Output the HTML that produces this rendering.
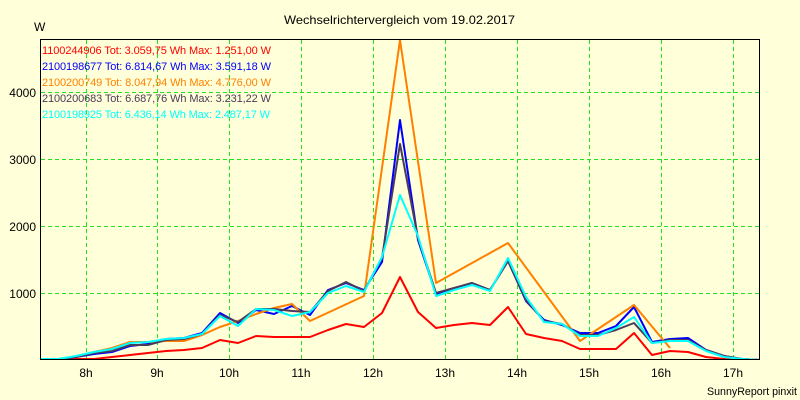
<!DOCTYPE html>
<html><head><meta charset="utf-8"><style>
html,body{margin:0;padding:0;background:#ffffd9;}
svg{display:block;}
text{font-family:"Liberation Sans",Arial,sans-serif;}
</style></head><body>
<svg width="800" height="400" viewBox="0 0 800 400" xmlns="http://www.w3.org/2000/svg">
<rect x="0" y="0" width="800" height="400" fill="#ffffd9"/>
<defs><clipPath id="pc"><rect x="40" y="39" width="720" height="321"/></clipPath></defs>
<text x="284" y="24" font-size="12" textLength="231" lengthAdjust="spacingAndGlyphs" fill="#000">Wechselrichtervergleich vom 19.02.2017</text>
<text x="34" y="31" font-size="12" fill="#000">W</text>
<g stroke="#22e022" stroke-width="1" stroke-dasharray="4,3" fill="none" shape-rendering="crispEdges">
<line x1="41" y1="92.5" x2="759" y2="92.5"/>
<line x1="41" y1="159.5" x2="759" y2="159.5"/>
<line x1="41" y1="226.5" x2="759" y2="226.5"/>
<line x1="41" y1="293.5" x2="759" y2="293.5"/>
<line x1="86.5" y1="40" x2="86.5" y2="359"/>
<line x1="157.5" y1="40" x2="157.5" y2="359"/>
<line x1="229.5" y1="40" x2="229.5" y2="359"/>
<line x1="301.5" y1="40" x2="301.5" y2="359"/>
<line x1="373.5" y1="40" x2="373.5" y2="359"/>
<line x1="445.5" y1="40" x2="445.5" y2="359"/>
<line x1="517.5" y1="40" x2="517.5" y2="359"/>
<line x1="589.5" y1="40" x2="589.5" y2="359"/>
<line x1="661.5" y1="40" x2="661.5" y2="359"/>
<line x1="733.5" y1="40" x2="733.5" y2="359"/>
</g>
<g font-size="12" fill="#000" text-anchor="end">
<text x="36" y="97">4000</text>
<text x="36" y="164">3000</text>
<text x="36" y="231">2000</text>
<text x="36" y="298">1000</text>
</g>
<g font-size="12" fill="#000" text-anchor="middle">
<text x="86" y="377">8h</text>
<text x="157" y="377">9h</text>
<text x="229" y="377">10h</text>
<text x="301" y="377">11h</text>
<text x="373" y="377">12h</text>
<text x="445" y="377">13h</text>
<text x="517" y="377">14h</text>
<text x="589" y="377">15h</text>
<text x="661" y="377">16h</text>
<text x="733" y="377">17h</text>
</g>
<text x="707" y="395" font-size="11" textLength="90" lengthAdjust="spacingAndGlyphs" fill="#000">SunnyReport pinxit</text>
<g font-size="11" lengthAdjust="spacingAndGlyphs">
<text x="42" y="54" textLength="229" fill="#ff0000">1100244906 Tot: 3.059,75 Wh Max: 1.251,00 W</text>
<text x="42" y="70" textLength="229" fill="#0000ff">2100198677 Tot: 6.814,67 Wh Max: 3.591,18 W</text>
<text x="42" y="86" textLength="229" fill="#ff8000">2100200749 Tot: 8.047,94 Wh Max: 4.776,00 W</text>
<text x="42" y="102" textLength="229" fill="#4b3b5b">2100200683 Tot: 6.687,76 Wh Max: 3.231,22 W</text>
<text x="42" y="118" textLength="228" fill="#00ffff">2100198925 Tot: 6.436,14 Wh Max: 2.487,17 W</text>
</g>
<g clip-path="url(#pc)" fill="none" stroke-width="2" stroke-linejoin="round">
<polyline stroke="#ff0000" points="40,359 58,359 76,359 94,359 112,357 130,355 148,353 166,351 184,350 202,348 220,340 238,343 256,336 274,337 292,337 310,337 328,330 346,324 364,327 382,313 400,277 418,312 436,328 454,325 472,323 490,325 508,307 526,334 544,338 562,341 580,349 598,349 616,349 634,333 652,355 670,351 688,352 706,357 724,359 742,360 760,360"/>
<polyline stroke="#0000ff" points="40,360 58,360 76,357 94,354 112,352 130,346 148,344 166,339 184,338 202,333 220,313 238,323 256,310 274,314 292,306 310,315 328,290 346,283 364,290 382,262 400,120 418,240 436,294 454,289 472,283 490,290 508,261 526,301 544,320 562,325 580,333 598,333 616,326 634,307 652,342 670,339 688,338 706,350 724,356 742,359 760,360"/>
<polyline stroke="#ff8000" points="40,359 58,359 76,357 94,352 112,348 130,342 148,342 166,341 184,341 202,335 220,327 238,321 256,314 274,308 292,304 310,321 364,296 400,40 436,283 508,243 580,341 634,305 670,348"/>
<polyline stroke="#4b3b5b" points="40,359 58,360 76,357 94,353 112,351 130,345 148,345 166,340 184,339 202,334 220,315 238,322 256,309 274,309 292,311 310,312 328,291 346,282 364,291 382,258 400,144 418,238 436,293 454,288 472,283 490,290 508,261 526,300 544,321 562,324 580,335 598,335 616,330 634,323 652,343 670,340 688,340 706,350 724,356 742,359 760,360"/>
<polyline stroke="#00ffff" points="40,359 58,359 76,356 94,352 112,349 130,343 148,342 166,339 184,338 202,334 220,316 238,326 256,309 274,310 292,316 310,312 328,293 346,286 364,292 382,257 400,195 418,236 436,296 454,290 472,285 490,291 508,258 526,297 544,322 562,324 580,336 598,336 616,328 634,317 652,343 670,341 688,341 706,351 724,357 742,359 760,360"/>
</g>
<rect x="40.5" y="39.5" width="719" height="320" fill="none" stroke="#000" stroke-width="1" shape-rendering="crispEdges"/>
</svg>
</body></html>
